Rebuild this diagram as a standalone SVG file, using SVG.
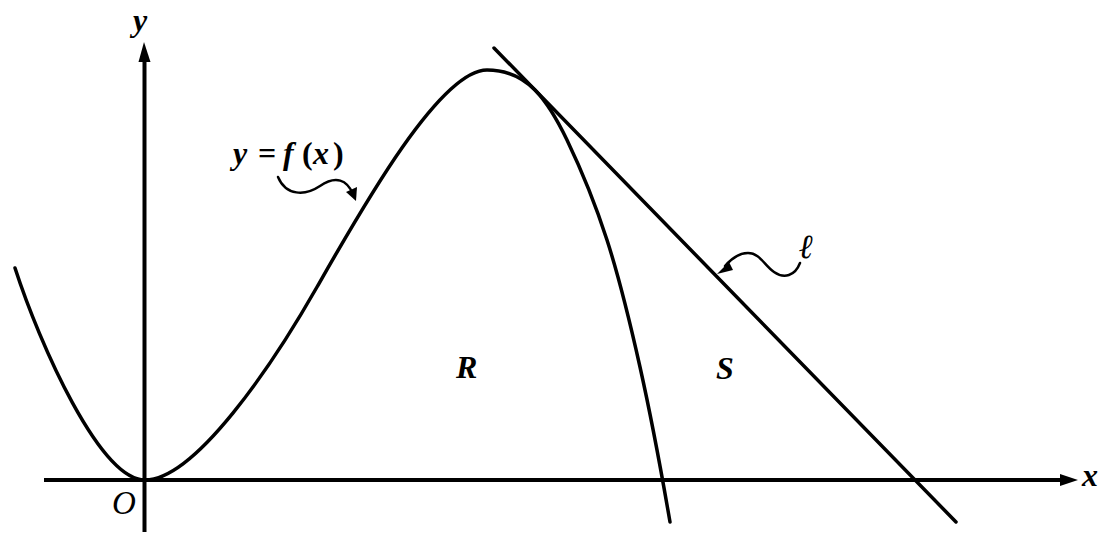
<svg xmlns="http://www.w3.org/2000/svg" width="1108" height="541" viewBox="0 0 1108 541">
<style>
.ax{stroke:#000;stroke-width:4;fill:none}
.cv{stroke:#000;stroke-width:3.5;fill:none;stroke-linecap:round;stroke-linejoin:round}
.sq{stroke:#000;stroke-width:2.5;fill:none;stroke-linecap:round}
.lb{font-family:"Liberation Serif","DejaVu Serif",serif;font-style:italic;font-weight:bold;font-size:32px;fill:#000}
.up{font-style:normal}
</style>
<rect width="1108" height="541" fill="#fff"/>
<g id="axes">
<line class="ax" x1="44" y1="480" x2="1062" y2="480"/>
<path d="M1060,474 L1078,480 L1060,486 Z" fill="#000"/>
<line class="ax" x1="144.5" y1="532" x2="144.5" y2="60"/>
<path d="M138.5,62 L144,42 L150.5,62 Z" fill="#000"/>
<text class="lb" x="1082" y="486">x</text>
<text class="lb" x="133" y="31">y</text>
<text class="lb" style="font-weight:normal;font-size:33px" x="112" y="514">O</text>
</g>
<g id="curve">
<path class="cv" d="M15,268 C40,345 100,480 145,480 C195,480 272,366 317,287 C362,208 440,70 487,70 C503,70 519,74 535,90 C545.7,101 555,115 567,140 C579,165 594.8,202.2 607,240 C619.2,277.8 629.5,320 640,367 C650.5,414 665,493 670,522"/>
</g>
<g id="tangent">
<line class="cv" x1="494" y1="48" x2="956" y2="522"/>
</g>
<g id="labels">
<text class="lb" x="233" y="164">y</text>
<text class="lb up" x="258" y="164">=</text>
<text class="lb" x="283" y="164">f</text>
<text class="lb up" x="302" y="164">(</text>
<text class="lb" x="313" y="164">x</text>
<text class="lb up" x="333" y="164">)</text>
<path class="sq" d="M278,177 C286,196 305,196 320,186 C336,175 347,180 353,194"/>
<path d="M346,192 L356,201 L357,187 Z" fill="#000"/>
<text class="lb" style="font-size:34px" x="799" y="258">ℓ</text>
<path class="sq" d="M800,263 C795,276 784,279 774,272 C764,265 760,253 748,253 C738,253 731,259 725,266"/>
<path d="M729,262 L717,274 L733,270 Z" fill="#000"/>
<text class="lb" x="456" y="378">R</text>
<text class="lb" x="716" y="379">S</text>
</g>
</svg>
